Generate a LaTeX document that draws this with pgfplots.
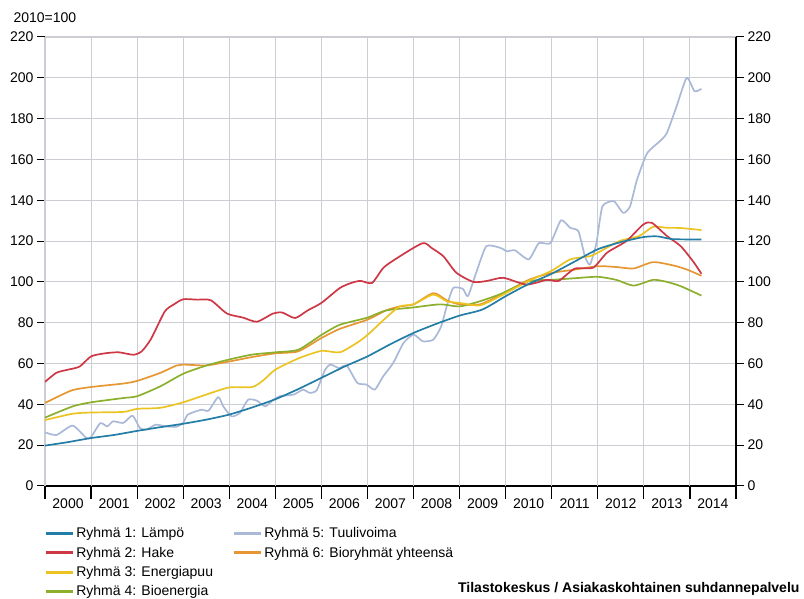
\documentclass[border=0pt]{standalone}
\usepackage{pgfplots}
\pgfplotsset{compat=1.18}
\usepackage{fontspec}
\setmainfont{Liberation Sans}

\definecolor{lampo}{RGB}{35,125,165}
\definecolor{hake}{RGB}{205,55,70}
\definecolor{energia}{RGB}{235,195,35}
\definecolor{bioen}{RGB}{140,175,45}
\definecolor{tuuli}{RGB}{170,185,215}
\definecolor{biory}{RGB}{230,150,50}
\definecolor{gridc}{RGB}{205,205,212}

\begin{document}
\begin{tikzpicture}[x=1pt,y=1pt]
\path[use as bounding box] (0,0) rectangle (804,599);

\begin{axis}[
    at={(45pt,113pt)}, anchor=south west,
    scale only axis, width=691pt, height=449pt,
    xmin=2000, xmax=2015, ymin=0, ymax=220,
    axis x line*=bottom, axis y line*=left,
    x axis line style={line width=2.6pt},
    y axis line style={line width=2pt},
    tick align=outside,
    major tick length=8pt,
    ytick={0,20,...,220},
    ymajorgrids=true,
    grid style={gridc, line width=1.1pt},
    ytick style={black, line width=1pt},
    xtick={2000.5,2001.5,...,2014.5},
    xticklabels={2000,2001,2002,2003,2004,2005,2006,2007,2008,2009,2010,2011,2012,2013,2014},
    xtick style={draw=none},
    extra x ticks={2000,2001,...,2015},
    extra x tick labels={},
    extra x tick style={grid=major, major tick length=13pt, xtick style={draw=black, line width=1.2pt}},
    tick label style={font=\fontsize{14}{16}\selectfont},
    /pgf/number format/assume math mode=true,
    /pgf/number format/1000 sep={},
    xticklabel style={yshift=-1pt},
    legend columns=2,
    legend cell align=left,
    legend style={at={(-0.006,-0.083)}, anchor=north west, draw=none, fill=none,
        font=\fontsize{14}{16}\selectfont, row sep=3.8pt,
        /tikz/every even column/.append style={column sep=17pt}},
    legend image code/.code={\draw[#1, line width=3.3pt] (0pt,0pt) -- (27pt,0pt);},
    every axis plot/.append style={line width=1.7pt, line join=round},
]

% Ryhmä 5: Tuulivoima
\addplot[tuuli, smooth, tension=0.35, forget plot] coordinates {
(2000,26.3) (2000.25,25) (2000.6,29.6) (2000.9,23.5) (2001,24) (2001.2,30.8) (2001.35,29.2)
(2001.48,31.7) (2001.7,30.9) (2001.9,34.5) (2002.06,28.4) (2002.2,27.6) (2002.4,30) (2002.64,29.2)
(2002.85,29) (2003,30.9) (2003.1,35) (2003.4,37.4) (2003.55,36.9) (2003.76,43.6) (2003.87,39)
(2004.05,34.1) (2004.23,35.8) (2004.41,42.3) (2004.6,41.8) (2004.78,39) (2004.96,42.3) (2005.1,44)
(2005.4,44.8) (2005.6,47.2) (2005.75,45.6) (2005.9,47) (2006.08,57) (2006.2,59.5) (2006.38,57.8)
(2006.55,59) (2006.78,50.5) (2006.98,49.7) (2007.16,47.2) (2007.34,53.7) (2007.56,60.3) (2007.78,70)
(2008.0,74.2) (2008.2,70.9) (2008.43,71.7) (2008.6,78.2) (2008.72,88) (2008.86,97) (2009.07,96.6)
(2009.18,93) (2009.36,104.5) (2009.58,117.5) (2009.88,116.7) (2010.03,115) (2010.2,115.5) (2010.5,111)
(2010.72,119) (2010.97,119) (2011.2,130.2) (2011.4,126.5) (2011.58,124.8) (2011.72,112.5) (2011.83,108.5)
(2011.97,119) (2012.1,137) (2012.35,139.5) (2012.55,133.8) (2012.7,137) (2012.85,150) (2013.07,163)
(2013.35,169) (2013.5,173) (2013.71,186) (2013.93,200) (2014.1,193.4) (2014.25,194.6)
};

% Ryhmä 6: Bioryhmät yhteensä
\addplot[biory, smooth, tension=0.4, forget plot] coordinates {
(2000,40.7) (2000.3,44) (2000.6,47) (2001,48.5) (2001.7,50.2) (2002,51.5) (2002.5,55.4) (2002.85,59)
(2003,59.5) (2003.5,59.1) (2004,61) (2004.5,63.2) (2005,65) (2005.5,66) (2006,72.5) (2006.4,77)
(2007,81.5) (2007.4,86) (2007.7,88) (2008,89) (2008.43,94.5) (2008.72,91) (2009,89) (2009.44,89)
(2009.88,93.5) (2010.5,101) (2011,104.4) (2011.5,106) (2012,107.7) (2012.4,107.3) (2012.78,106.6)
(2013.2,109.7) (2013.65,108) (2013.94,106) (2014.25,103)
};

% Ryhmä 4: Bioenergia
\addplot[bioen, smooth, tension=0.4, forget plot] coordinates {
(2000,33.5) (2000.6,39) (2001,41) (2001.7,43.1) (2002,44) (2002.5,48.8) (2003,55) (2003.5,59)
(2004,62) (2004.5,64.4) (2005,65.5) (2005.5,66.8) (2006,74) (2006.4,79) (2007,82.5) (2007.4,86)
(2008,87.5) (2008.57,89) (2009,88) (2009.44,90.5) (2009.88,94) (2010.5,100.3) (2011,101) (2011.5,101.8)
(2012,102.5) (2012.4,101) (2012.78,98.2) (2013.2,101) (2013.5,100) (2013.8,97.9) (2014.25,93.3)
};

% Ryhmä 3: Energiapuu
\addplot[energia, smooth, tension=0.4, forget plot] coordinates {
(2000,32.3) (2000.6,35.4) (2001,36) (2001.7,36.3) (2002,37.8) (2002.5,38.3) (2003,41) (2003.5,44.8)
(2004,48.3) (2004.5,48.5) (2004.75,52) (2005,57) (2005.5,62.5) (2006,66.2) (2006.4,65.5) (2006.76,70)
(2007,74) (2007.4,82.4) (2007.7,88) (2008,89) (2008.43,93.8) (2008.72,90.5) (2009,89.7) (2009.44,88.5)
(2009.88,93) (2010.5,100.5) (2011,105.5) (2011.4,111) (2011.83,112.6) (2012,114.3) (2012.47,120)
(2012.9,122.5) (2013.2,127) (2013.5,126.5) (2013.8,126.4) (2014.25,125.4)
};

% Ryhmä 2: Hake
\addplot[hake, smooth, tension=0.4, forget plot] coordinates {
(2000,51) (2000.25,55.5) (2000.5,57) (2000.75,58.5) (2001,63.5) (2001.3,65) (2001.6,65.5) (2001.92,64.3)
(2002.1,66) (2002.3,72) (2002.6,85.5) (2002.8,89) (2003,91.5) (2003.3,91.3) (2003.6,91) (2003.95,84.5)
(2004.3,82.5) (2004.6,80.5) (2004.95,84.5) (2005.15,85) (2005.43,82.3) (2005.7,86) (2006,89.7)
(2006.4,97) (2006.65,99.5) (2006.85,100.5) (2007.1,99.5) (2007.35,107) (2007.7,112.5) (2008.2,119)
(2008.4,116.5) (2008.65,112.5) (2008.93,104.5) (2009.3,100) (2009.6,100.5) (2009.95,102) (2010.45,98.7)
(2010.9,101) (2011.15,100.5) (2011.5,106.5) (2011.9,107) (2012.2,114.3) (2012.62,120) (2012.98,128)
(2013.17,129) (2013.5,122.5) (2013.8,117.5) (2014.07,110) (2014.25,104)
};

% Ryhmä 1: Lämpö
\addplot[lampo, smooth, tension=0.4, forget plot] coordinates {
(2000,19.8) (2000.5,21.5) (2001,23.5) (2001.5,25) (2002,27) (2002.5,28.8) (2003,30.5) (2003.5,32.5)
(2004,35) (2004.5,38.5) (2005,42.5) (2005.5,47.5) (2006,53) (2006.5,58.5) (2007,63.5) (2007.5,69.5)
(2008,75) (2008.5,79.5) (2009,83.5) (2009.5,86.5) (2010,93) (2010.5,99) (2011,104) (2011.5,110)
(2012,116) (2012.5,119.5) (2013,122) (2013.3,122.3) (2013.6,121) (2014,120.8) (2014.25,120.8)
};

\addlegendimage{lampo}\addlegendentry{Ryhmä 1: Lämpö}
\addlegendimage{tuuli}\addlegendentry{Ryhmä 5: Tuulivoima}
\addlegendimage{hake}\addlegendentry{Ryhmä 2: Hake}
\addlegendimage{biory}\addlegendentry{Ryhmä 6: Bioryhmät yhteensä}
\addlegendimage{energia}\addlegendentry{Ryhmä 3: Energiapuu}
\addlegendimage{empty legend}\addlegendentry{}
\addlegendimage{bioen}\addlegendentry{Ryhmä 4: Bioenergia}
\end{axis}

% right-hand axis
\begin{axis}[
    at={(45pt,113pt)}, anchor=south west,
    scale only axis, width=691pt, height=449pt,
    xmin=2000, xmax=2015, ymin=0, ymax=220,
    axis x line=none, axis y line*=right,
    y axis line style={line width=2pt},
    tick align=outside, major tick length=8pt,
    ytick={0,20,...,220},
    ytick style={black, line width=1pt},
    tick label style={font=\fontsize{14}{16}\selectfont},
    /pgf/number format/assume math mode=true,
]
\end{axis}

\node[anchor=west, font=\fontsize{14}{16}\selectfont] at (10,581) {2010=100};
\node[anchor=east, font=\bfseries\fontsize{14}{16}\selectfont] at (803,10) {Tilastokeskus / Asiakaskohtainen suhdannepalvelu};
\end{tikzpicture}
\end{document}
